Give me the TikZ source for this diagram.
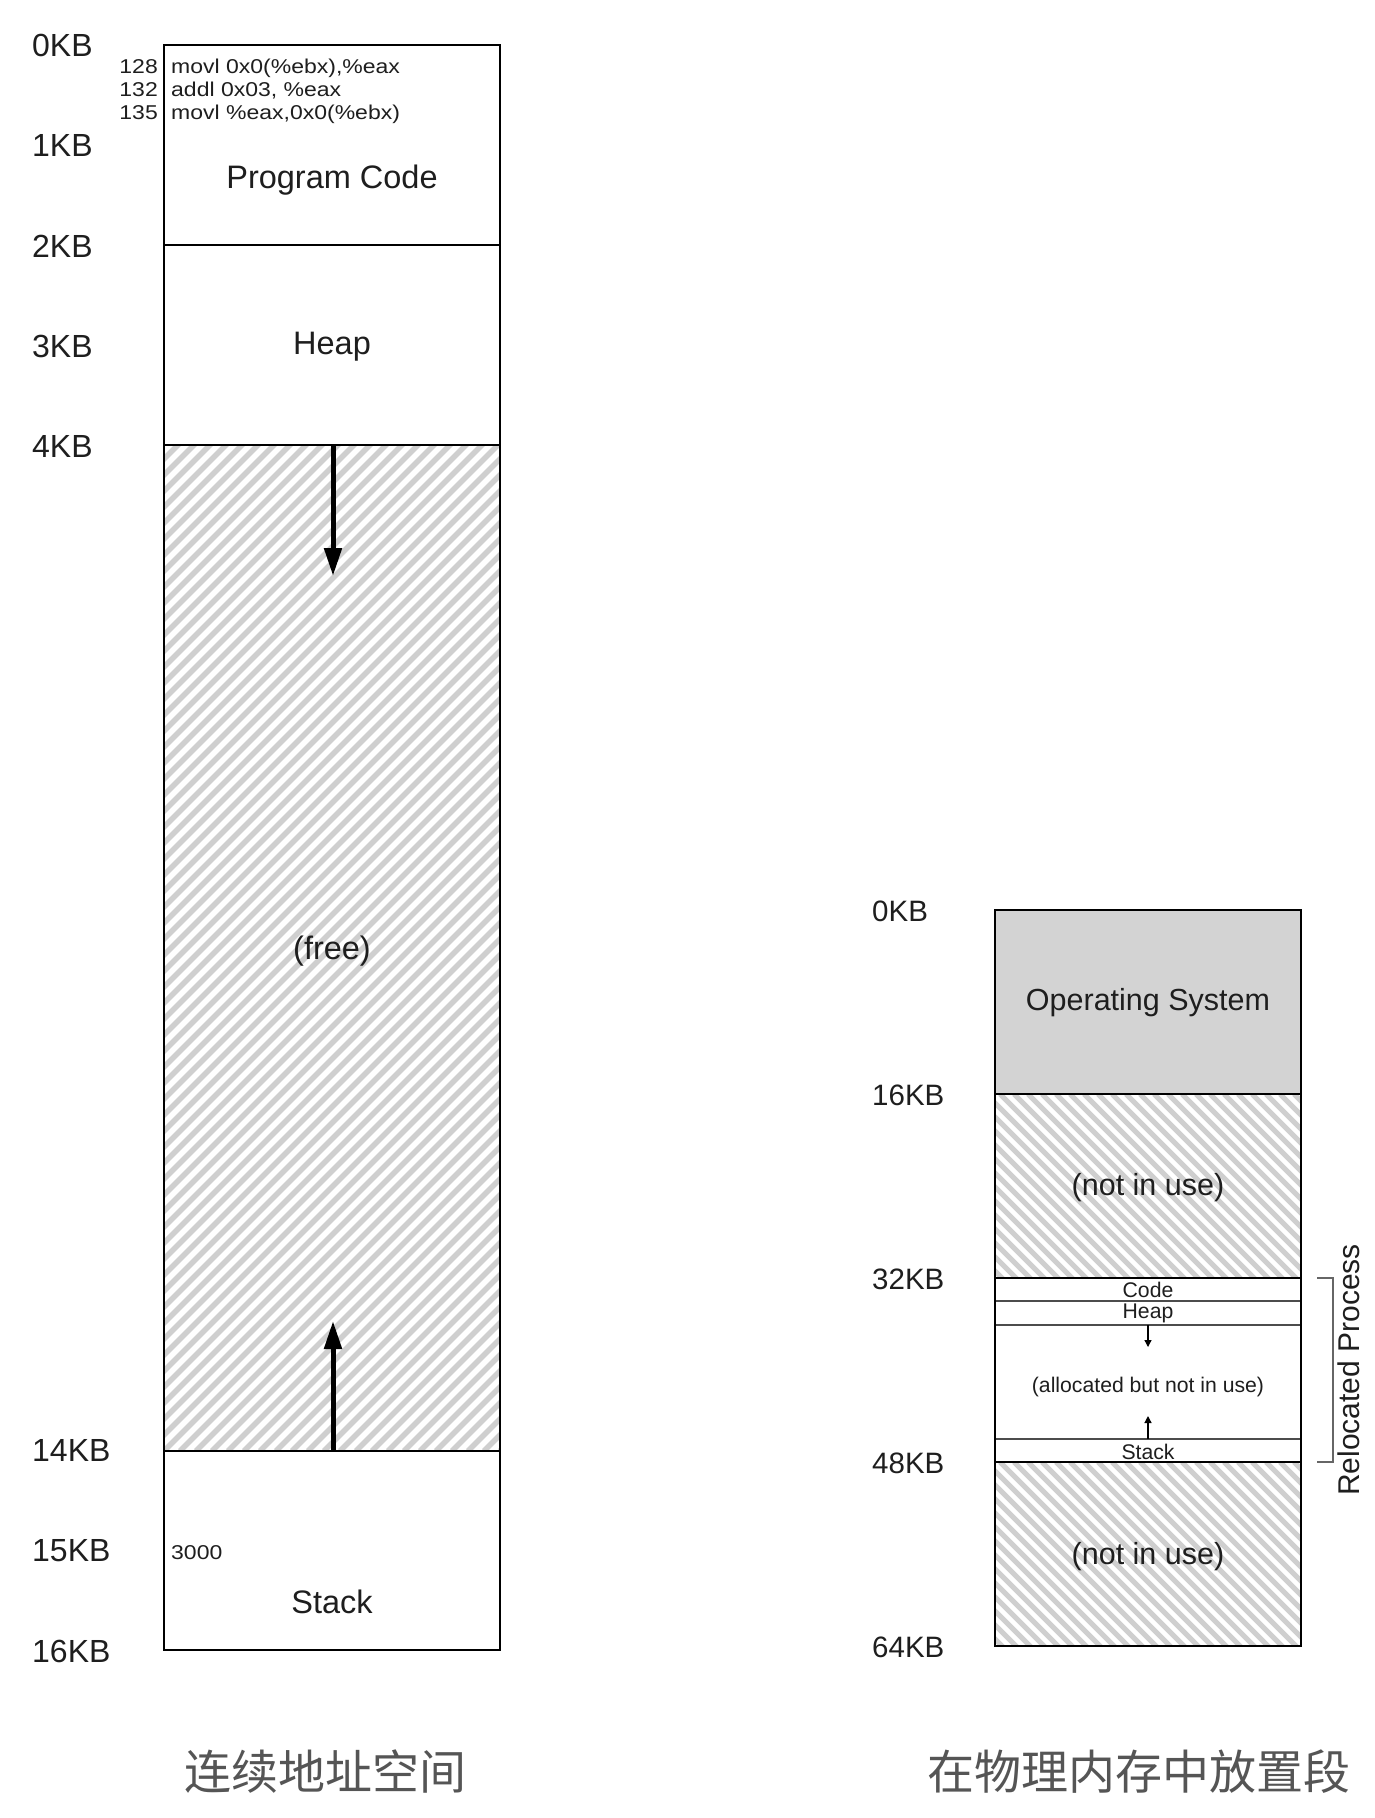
\documentclass[tikz,border=0pt]{standalone}
\usepackage{fontspec}
\setmainfont{Liberation Sans}
\newfontfamily\cjk{Noto Sans CJK SC}
\newfontfamily\codefont[FakeStretch=1.15]{Liberation Sans}
\usetikzlibrary{arrows.meta}
\definecolor{hatchgray}{HTML}{CFCFCF}
\definecolor{osgray}{HTML}{D3D3D3}
\definecolor{capgray}{HTML}{555555}
\definecolor{ink}{HTML}{1E1E1E}
\begin{document}
\begin{tikzpicture}[x=1pt,y=-1pt,
  frame/.style={draw=black, line width=2.6pt},
  divider/.style={draw=black!70, line width=1.5pt},
  hatchline/.style={draw=hatchgray, line width=5.5pt},
  kbleft/.style={anchor=west, inner sep=0pt, text=ink, font=\fontsize{32}{32}\selectfont},
  kbright/.style={anchor=west, inner sep=0pt, text=ink, font=\fontsize{29.5}{29.5}\selectfont},
  biglabel/.style={inner sep=0pt, text=ink, font=\fontsize{32.5}{32.5}\selectfont},
  midlabel/.style={inner sep=0pt, text=ink, font=\fontsize{30.5}{30.5}\selectfont},
  smalllabel/.style={inner sep=0pt, text=ink, font=\fontsize{21.2}{21.2}\selectfont},
  codetext/.style={inner sep=0pt, text=ink, font=\codefont\fontsize{20}{20}\selectfont},
  caption/.style={inner sep=0pt, text=capgray, font=\cjk\fontsize{47}{47}\selectfont},
  bigarrow/.style={draw=black, line width=5pt, -{Triangle[length=28pt,width=17pt]}},
  smallarrow/.style={draw=black, line width=1.3pt, -{Triangle[length=7pt,width=7pt]}},
  bracket/.style={draw=black!60, line width=1.5pt}
]
\useasboundingbox (0,0) rectangle (1374,1818);

% ---------- left: address space ----------
\begin{scope}
  \clip (164,445) rectangle (500,1451);
  \foreach \s in {-860,-844,...,520}
    \draw[hatchline] (\s,1451) -- ++(1120,-1120);
\end{scope}

\draw[frame] (164,45) rectangle (500,1650);
\draw[frame] (164,245) -- (500,245);
\draw[frame] (164,445) -- (500,445);
\draw[frame] (164,1451) -- (500,1451);

\node[kbleft] (l0) at (32,45) {0KB};
\node[kbleft] (l1) at (32,145) {1KB};
\node[kbleft] (l2) at (32,246) {2KB};
\node[kbleft] (l3) at (32,346) {3KB};
\node[kbleft] (l4) at (32,446) {4KB};
\node[kbleft] (l14) at (32,1450) {14KB};
\node[kbleft] (l15) at (32,1551) {15KB};
\node[kbleft] (l16) at (32,1651) {16KB};

\node[codetext, anchor=base east] (n128) at (158,73) {128};
\node[codetext, anchor=base east] (n132) at (158,96) {132};
\node[codetext, anchor=base east] (n135) at (158,119) {135};
\node[codetext, anchor=base west] (c128) at (171,73) {movl 0x0(\%ebx),\%eax};
\node[codetext, anchor=base west] (c132) at (171,96) {addl 0x03, \%eax};
\node[codetext, anchor=base west] (c135) at (171,119) {movl \%eax,0x0(\%ebx)};

\node[biglabel] (progcode) at (332,180) {Program Code};
\node[biglabel] (heap) at (332,347) {Heap};
\node[biglabel] (free) at (332,951) {(free)};
\node[biglabel] (stack) at (332,1602) {Stack};
\node[codetext, anchor=west] (sp) at (171,1553) {3000};

\coordinate (heapedge) at (333,446);
\coordinate (heaptip) at (333,576);
\coordinate (stackedge) at (333,1450);
\coordinate (stacktip) at (333,1321);
\draw[bigarrow] (heapedge) -- (heaptip);
\draw[bigarrow] (stackedge) -- (stacktip);

\node[caption] (capleft) at (325,1772) {连续地址空间};

% ---------- right: physical memory ----------
\fill[osgray] (995,910) rectangle (1301,1094);
\begin{scope}
  \clip (995,1094) rectangle (1301,1278);
  \foreach \s in {790,804,...,1310}
    \draw[hatchline, line width=5pt] (\s,1094) -- ++(220,220);
\end{scope}
\begin{scope}
  \clip (995,1462) rectangle (1301,1646);
  \foreach \s in {790,804,...,1310}
    \draw[hatchline, line width=5pt] (\s,1462) -- ++(220,220);
\end{scope}

\draw[divider] (995,1301) -- (1301,1301);
\draw[divider] (995,1325) -- (1301,1325);
\draw[divider] (995,1439) -- (1301,1439);

\draw[frame] (995,910) rectangle (1301,1646);
\draw[frame] (995,1094) -- (1301,1094);
\draw[frame] (995,1278) -- (1301,1278);
\draw[frame] (995,1462) -- (1301,1462);

\node[kbright] (r0) at (872,911) {0KB};
\node[kbright] (r16) at (872,1095) {16KB};
\node[kbright] (r32) at (872,1279) {32KB};
\node[kbright] (r48) at (872,1463) {48KB};
\node[kbright] (r64) at (872,1647) {64KB};

\node[midlabel] (os) at (1148,1003) {Operating System};
\node[midlabel] (niu1) at (1148,1188) {(not in use)};
\node[midlabel] (niu2) at (1148,1557) {(not in use)};

\node[smalllabel] (rcode) at (1148,1290) {Code};
\node[smalllabel] (rheap) at (1148,1313) {Heap};
\node[smalllabel] (ralloc) at (1148,1387) {(allocated but not in use)};
\node[smalllabel] (rstack) at (1148,1452) {Stack};

\coordinate (rheapedge) at (1148,1325);
\coordinate (rheaptip) at (1148,1347);
\coordinate (rstackedge) at (1148,1439);
\coordinate (rstacktip) at (1148,1416);
\draw[smallarrow] (rheapedge) -- (rheaptip);
\draw[smallarrow] (rstackedge) -- (rstacktip);

\coordinate (brtop) at (1317,1278);
\coordinate (brbot) at (1317,1462);
\draw[bracket] (brtop) -- (1333,1278) -- (1333,1462) -- (brbot);
\node[midlabel, font=\fontsize{30}{30}\selectfont, rotate=90] (reloc) at (1349,1370) {Relocated Process};

\node[caption] (capright) at (1139,1772) {在物理内存中放置段};
\end{tikzpicture}
\end{document}
